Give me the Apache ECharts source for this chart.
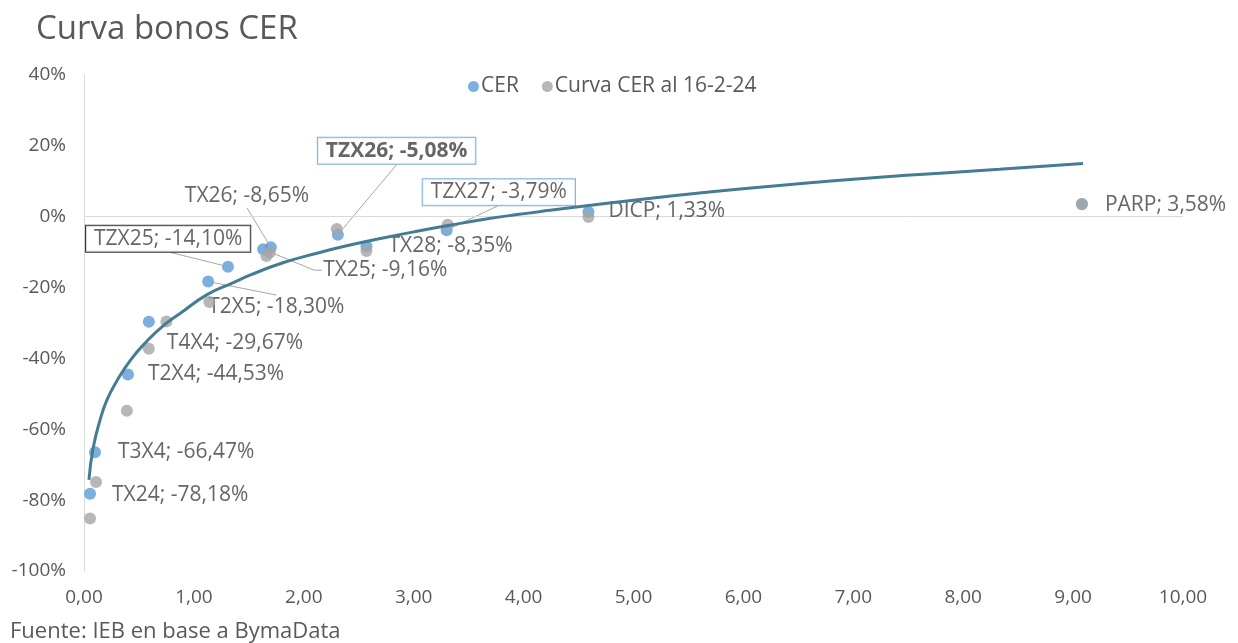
<!DOCTYPE html>
<html>
<head>
<meta charset="utf-8">
<title>Curva bonos CER</title>
<script src="https://cdn.jsdelivr.net/npm/echarts@6/dist/echarts.min.js"></script>
<style>
  html, body { margin: 0; padding: 0; background: #ffffff; }
  #chart { width: 1238px; height: 643px; }
</style>
</head>
<body>
<div id="chart"></div>
<script>
// Bonos CER: duration (years) vs. TIR (%)
const bonds = ['TX24', 'T3X4', 'T2X4', 'T4X4', 'T2X5', 'TZX25', 'TX25', 'TX26', 'TZX26', 'TX28', 'TZX27', 'DICP', 'PARP'];
const cerDuration = [0.055, 0.10, 0.40, 0.59, 1.13, 1.31, 1.63, 1.70, 2.31, 2.57, 3.30, 4.59, 9.08];
const cerYield = [-78.18, -66.47, -44.53, -29.67, -18.30, -14.10, -9.16, -8.65, -5.08, -8.35, -3.79, 1.33, 3.58];

// Curva CER al 16-2-24
const prevDuration = [0.055, 0.11, 0.39, 0.59, 0.75, 1.14, 1.66, 1.69, 2.30, 2.57, 3.31, 4.59, 9.08];
const prevYield = [-85.2, -74.9, -54.8, -37.3, -29.6, -24.1, -11.1, -10.1, -3.5, -9.7, -2.3, -0.1, 3.55];

// Logarithmic trend of the CER curve
const trendX = [0.045, 0.082, 0.146, 0.209, 0.30, 0.42, 0.57, 0.72, 0.87, 1.12, 1.36, 1.51, 1.81, 2.12, 2.42, 2.72, 3.03, 3.33, 3.63, 3.94, 4.24, 4.76, 5.36, 5.97, 6.58, 7.18, 7.79, 8.33, 9.09];
const trendY = [-74.3, -65.5, -57.4, -51.7, -46.3, -40.6, -35.2, -30.8, -27.4, -22.0, -18.6, -16.5, -13.0, -10.3, -8.0, -6.0, -4.1, -2.4, -0.8, 0.6, 1.8, 3.8, 5.9, 7.8, 9.5, 11.0, 12.3, 13.4, 15.0];

// Axis ticks
const xTicks = { min: 0, max: 10, interval: 1 };
const yTicks = { min: -100, max: 40, interval: 20 };

// Label placement (pixel shift from the default right-hand position)
const labelOffsets = {
  TX24: [11, 1], T3X4: [12, 0], T2X4: [9, 0], T4X4: [7, 21], T2X5: [-11, 25],
  TZX25: [-153, -28], TX25: [49, 21], TX26: [-97, -51], TZX26: [-31, -84],
  TX28: [11, 0], TZX27: [-35, -38], DICP: [9, -1], PARP: [12, 1]
};
// Leader line anchor on the label: edge and relative position along it
const leaderLines = {
  T2X5: ['top', 0.5],
  TZX25: ['bottom', 0.52],
  TX25: ['left', 0.5],
  TX26: ['bottom', 0.5],
  TZX26: ['bottom', 0.5],
  TZX27: ['bottom', 0.49]
};
const boxedLabels = {
  TZX25: { borderColor: '#000000', fontWeight: 'normal' },
  TZX26: { borderColor: '#5b9bd5', fontWeight: 'bold' },
  TZX27: { borderColor: '#5b9bd5', fontWeight: 'normal' }
};

const FONT = 'Open Sans';
const LABEL_SIZE = 21;
const LABEL_PAD = [3, 8, 2, 8];
const SYMBOL = 12;
const LABEL_GAP = 5;
const fmtPct = v => v.toFixed(2).replace('.', ',') + '%';
const labelText = i => bonds[i] + '; ' + fmtPct(cerYield[i]);

const cerData = bonds.map((name, i) => {
  const item = { name: name, value: [cerDuration[i], cerYield[i]] };
  if (boxedLabels[name]) {
    item.label = {
      borderColor: boxedLabels[name].borderColor,
      borderWidth: 1,
      backgroundColor: '#ffffff',
      padding: LABEL_PAD,
      fontWeight: boxedLabels[name].fontWeight
    };
  }
  return item;
});

const prevData = prevDuration.map((d, i) => [d, prevYield[i]]);
const trendData = trendX.map((d, i) => [d, trendY[i]]);

const footer = {
  id: 'footer',
  type: 'text',
  left: 10,
  top: 621,
  style: { text: 'Fuente: IEB en base a BymaData', font: '22px "Open Sans"', fill: '#595959' }
};

const chart = echarts.init(document.getElementById('chart'), null, { renderer: 'canvas' });

chart.setOption({
  animation: false,
  backgroundColor: '#ffffff',
  textStyle: { fontFamily: FONT },
  title: {
    text: 'Curva bonos CER',
    left: 31,
    top: 8,
    textStyle: { fontFamily: FONT, fontSize: 33, fontWeight: 'normal', color: '#595959' }
  },
  legend: {
    left: 463,
    top: 71,
    itemWidth: 11,
    itemHeight: 11,
    itemGap: 23,
    icon: 'circle',
    textStyle: { fontFamily: FONT, fontSize: 21, color: '#595959', padding: [0, 0, 0, -3] },
    data: ['CER', 'Curva CER al 16-2-24']
  },
  graphic: [footer],
  grid: { left: 84, right: 55, top: 75, bottom: 72 },
  xAxis: {
    type: 'value',
    min: xTicks.min,
    max: xTicks.max,
    interval: xTicks.interval,
    axisLine: { show: false },
    axisTick: { show: false },
    splitLine: { show: false },
    axisLabel: {
      margin: 17,
      fontFamily: FONT,
      fontSize: 19,
      color: '#595959',
      formatter: v => v.toFixed(2).replace('.', ',')
    }
  },
  yAxis: {
    type: 'value',
    min: yTicks.min,
    max: yTicks.max,
    interval: yTicks.interval,
    axisLine: { show: true, onZero: false, lineStyle: { color: '#d9d9d9', width: 1 } },
    axisTick: { show: false },
    splitLine: { show: false },
    axisLabel: {
      margin: 18,
      fontFamily: FONT,
      fontSize: 19,
      color: '#595959',
      formatter: v => v + '%'
    }
  },
  series: [
    {
      name: 'CER',
      type: 'scatter',
      symbol: 'circle',
      symbolSize: SYMBOL,
      itemStyle: { color: '#5b9bd5' },
      data: cerData,
      z: 3,
      label: {
        show: true,
        position: 'right',
        distance: LABEL_GAP,
        fontFamily: FONT,
        fontSize: LABEL_SIZE,
        color: '#404040',
        formatter: p => labelText(p.dataIndex)
      },
      labelLayout: p => {
        const o = labelOffsets[bonds[p.dataIndex]];
        return { dx: o[0], dy: o[1] };
      }
    },
    {
      name: 'Curva CER al 16-2-24',
      type: 'scatter',
      symbol: 'circle',
      symbolSize: SYMBOL,
      itemStyle: { color: '#a5a5a5' },
      data: prevData,
      z: 4
    },
    {
      name: 'Tendencia',
      type: 'line',
      data: trendData,
      smooth: true,
      showSymbol: false,
      symbol: 'none',
      lineStyle: { color: '#457c94', width: 3 },
      z: 5,
      markLine: {
        silent: true,
        symbol: 'none',
        label: { show: false },
        lineStyle: { color: '#d9d9d9', type: 'solid', width: 1 },
        data: [{ yAxis: 0 }],
        z: 1
      }
    }
  ]
});

// Leader lines: from each marker to the chosen edge of its shifted label
const measureCtx = document.createElement('canvas').getContext('2d');
function labelBox(i) {
  const name = bonds[i];
  const boxed = boxedLabels[name];
  measureCtx.font = (boxed && boxed.fontWeight === 'bold' ? 'bold ' : '') + LABEL_SIZE + 'px "' + FONT + '"';
  const tw = measureCtx.measureText(labelText(i)).width;
  const w = tw + (boxed ? LABEL_PAD[1] + LABEL_PAD[3] : 0);
  const h = LABEL_SIZE + (boxed ? LABEL_PAD[0] + LABEL_PAD[2] : 0);
  const pt = chart.convertToPixel({ gridIndex: 0 }, [cerDuration[i], cerYield[i]]);
  const o = labelOffsets[name];
  const x = pt[0] + SYMBOL / 2 + LABEL_GAP + o[0];
  const y = pt[1] + o[1] - h / 2;
  return { pt: pt, x: x, y: y, w: w, h: h };
}

const leaderGraphics = bonds.map((name, i) => {
  const leader = leaderLines[name];
  if (!leader) return null;
  const b = labelBox(i);
  let end, knee;
  if (leader[0] === 'left') {
    end = [b.x - 1, b.y + b.h * leader[1]];
    knee = [b.x - 9, end[1]];
  } else {
    end = [b.x + b.w * leader[1], leader[0] === 'bottom' ? b.y + b.h + 1 : b.y - 1];
  }
  const target = knee || end;
  const vx = target[0] - b.pt[0], vy = target[1] - b.pt[1];
  const len = Math.sqrt(vx * vx + vy * vy) || 1;
  const start = [b.pt[0] + vx / len * SYMBOL / 2, b.pt[1] + vy / len * SYMBOL / 2];
  const pts = knee ? [start, knee, end] : [start, end];
  return {
    id: 'leader-' + name,
    type: 'polyline',
    silent: true,
    z: 1,
    shape: { points: pts },
    style: { stroke: '#a6a6a6', lineWidth: 1, fill: null }
  };
}).filter(Boolean);

chart.setOption({ graphic: [footer].concat(leaderGraphics) });
</script>
</body>
</html>
